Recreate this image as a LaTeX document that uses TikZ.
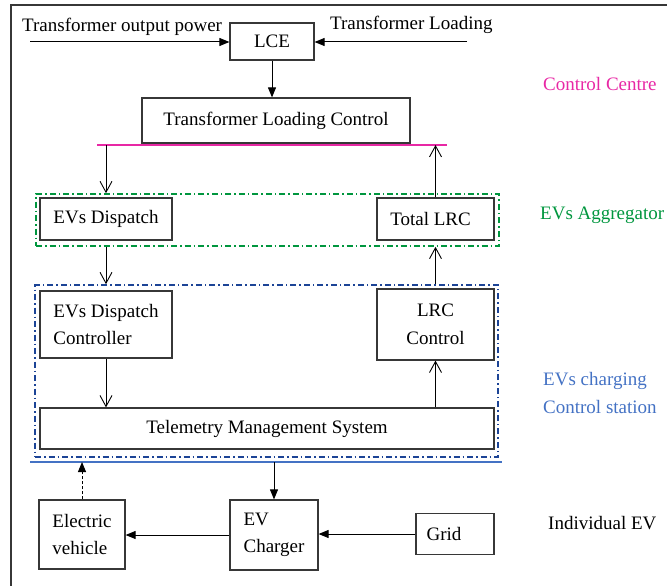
\documentclass[tikz,border=0pt]{standalone}
\usepackage{fontspec}
\setmainfont{Liberation Serif}
\usetikzlibrary{arrows.meta}
\definecolor{boxc}{RGB}{55,55,55}
\definecolor{pinkc}{RGB}{232,40,165}
\definecolor{greenc}{RGB}{0,150,62}
\definecolor{dbluec}{RGB}{28,68,150}
\definecolor{lbluec}{RGB}{68,114,196}
\begin{document}
\begin{tikzpicture}[x=1pt,y=-1pt,
  font=\fontsize{19}{27.5}\selectfont,
  box/.style 2 args={draw=boxc,line width=1.2pt,inner sep=0pt,minimum width=#1pt,minimum height=#2pt},
  farr/.style={line width=1pt,-{Triangle[length=10pt,width=8pt]}},
  oarr/.style={line width=0.9pt,-{Straight Barb[length=11pt,width=12pt,line width=0.9pt]}},
  dashdot/.style={line width=1.6pt,dash pattern=on 6pt off 3pt on 1.5pt off 3pt},
  lab/.style={anchor=base west,inner sep=0pt}]
\useasboundingbox (0,0) rectangle (667,586);
% outer frame
\draw[boxc,line width=1.3pt] (11,586) -- (11,5) -- (667,5);
% group boxes
\node[draw=greenc,dashdot,inner sep=0pt,minimum width=463pt,minimum height=52pt] (agg) at (267.5,220) {};
\node[draw=dbluec,dashdot,inner sep=0pt,minimum width=463pt,minimum height=172pt] (stn) at (266.5,371) {};
% boxes
\node[box={84}{37}] (lce) at (272,41.5) {LCE};
\node[box={268}{45}] (tlc) at (276,120.5) {Transformer Loading Control};
\node[box={132}{42}] (disp) at (106,219) {EVs Dispatch};
\node[box={117}{42}] (tlrc) at (435.5,219) {Total LRC\hspace*{10pt}};
\node[box={132}{67},align=left] (ctrl) at (106,324.5) {EVs Dispatch\\Controller};
\node[box={117}{71},align=center] (lrcc) at (435.5,324.5) {LRC\\Control};
\node[box={454}{41}] (tms) at (267,428.5) {Telemetry Management System};
\node[box={86}{69},align=left] (ev) at (82,534.5) {Electric\\vehicle};
\node[box={88}{70},align=left] (chg) at (274,535) {EV\\Charger};
\node[box={78}{41}] (grid) at (455,534) {Grid\hspace*{22pt}};
% texts
\node[lab] (t1) at (22,32) {Transformer output power};
\node[lab] (t2) at (330,30) {Transformer Loading};
\node[lab,text=pinkc] (l1) at (543,91) {Control Centre};
\node[lab,text=greenc] (l2) at (540,219) {EVs Aggregator};
\node[lab,text=lbluec] (l3) at (543,385) {EVs charging};
\node[lab,text=lbluec] (l4) at (543,413) {Control station};
\node[lab] (l5) at (548,529) {Individual EV};
% lines
\draw[pinkc,line width=2pt] (97,145) coordinate (pl) -- (447,145) coordinate (pr);
\draw[lbluec,line width=2pt] (30,462) coordinate (bl) -- (502,462) coordinate (br);
% connectors
\coordinate (inl) at (30,42);
\coordinate (inr) at (467,42);
\draw[farr] (inl) -- (lce.west |- inl);
\draw[farr] (inr) -- (lce.east |- inr);
\draw[farr] (lce.south) -- (lce.south |- tlc.north);
\draw[oarr] (pl -| disp) -- (agg.north -| disp);
\draw[oarr] (tlrc.north) -- (pl -| tlrc);
\draw[oarr] (agg.south -| disp) -- (stn.north -| disp);
\draw[oarr] (stn.north -| lrcc) -- (agg.south -| lrcc);
\draw[oarr] (ctrl.south) -- (ctrl.south |- tms.north);
\draw[oarr] (tms.north -| lrcc) -- (lrcc.south);
\draw[farr,dash pattern=on 3pt off 2pt] (ev.north) -- (bl -| ev);
\draw[farr] (bl -| chg) -- (chg.north);
\draw[farr] (grid.west) -- (chg.east |- grid.west);
\draw[farr] (chg.west) -- (ev.east |- chg.west);
\end{tikzpicture}
\end{document}
